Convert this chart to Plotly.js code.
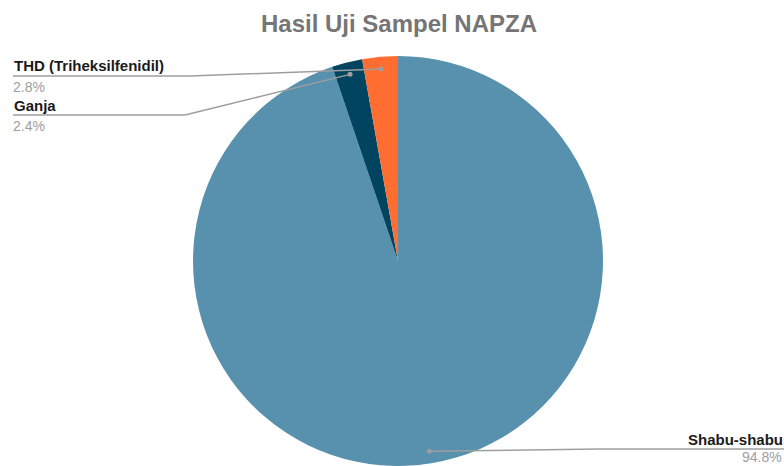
<!DOCTYPE html>
<html>
<head>
<meta charset="utf-8">
<script src="https://cdn.plot.ly/plotly-3.0.1.min.js"></script>
<style>
  html, body { margin: 0; padding: 0; background: #fff; }
  #plot { width: 784px; height: 466px; }
</style>
</head>
<body>
<div id="plot"></div>
<script>
// --- Data (clockwise from 12 o'clock) ---
const labels = ["Shabu-shabu", "Ganja", "THD (Triheksilfenidil)"];
const values = [94.8, 2.4, 2.8];
const colors = ["#5891ae", "#00445f", "#ff6d31"];

// where each outside label sits (px) and where its leader line bends
const labelY = [449, 115, 76];     // underline of each label
const elbowX = [600, 185, 190];
const labelSide = ["right", "left", "left"];

const W = 784, H = 466;
const cx = 398, cy = 261, R = 205;

const px = x => x / W;
const py = y => 1 - y / H;

// --- dots, leader lines, labels from the slice angles ---
const total = values.reduce((a, b) => a + b, 0);
const shapes = [];
const annotations = [];
let cum = 0;
values.forEach((v, i) => {
  const mid = (cum + v / 2) / total * 2 * Math.PI; // clockwise from top
  cum += v;
  const dx = cx + 0.94 * R * Math.sin(mid);
  const dy = cy - 0.94 * R * Math.cos(mid);
  const left = labelSide[i] === "left";
  const endX = left ? 13 : W;
  shapes.push({
    type: "path", xref: "paper", yref: "paper",
    path: `M ${px(dx)} ${py(dy)} L ${px(elbowX[i])} ${py(labelY[i])} L ${px(endX)} ${py(labelY[i])}`,
    line: { color: "#9e9e9e", width: 1.5 }
  });
  shapes.push({
    type: "circle", xref: "paper", yref: "paper",
    xsizemode: "pixel", ysizemode: "pixel",
    xanchor: px(dx), yanchor: py(dy),
    x0: -2.5, x1: 2.5, y0: -2.5, y1: 2.5,
    fillcolor: "#9e9e9e", line: { width: 0 }
  });
  annotations.push({
    xref: "paper", yref: "paper", showarrow: false,
    x: left ? px(12) : px(785), y: py(labelY[i] - 10),
    xanchor: left ? "left" : "right", yanchor: "middle",
    text: "<b>" + labels[i] + "</b>",
    font: { family: "Liberation Sans, Arial, sans-serif", size: 15, color: "#1a1a1a" }
  });
  annotations.push({
    xref: "paper", yref: "paper", showarrow: false, borderpad: 0,
    x: left ? px(12) : px(783), y: py(labelY[i] + (left ? 11 : 8)),
    xanchor: left ? "left" : "right", yanchor: "middle",
    text: v.toFixed(1) + "%",
    font: { family: "Liberation Sans, Arial, sans-serif", size: 14, color: "#9e9e9e" }
  });
});

const pie = {
  type: "pie",
  labels: labels,
  values: values,
  sort: false,
  direction: "clockwise",
  rotation: 0,
  marker: { colors: colors, line: { width: 0 } },
  textinfo: "none",
  hoverinfo: "none",
  domain: { x: [px(cx - R - 1), px(cx + R + 1)], y: [0, 1 - (cy - R) / H] }
};

const layout = {
  width: W,
  height: H,
  margin: { l: 0, r: 0, t: 0, b: 0 },
  paper_bgcolor: "#fff",
  showlegend: false,
  title: {
    text: "<b>Hasil Uji Sampel NAPZA</b>",
    x: px(399), xanchor: "center",
    y: 1 - 24 / H, yanchor: "middle",
    font: { family: "Liberation Sans, Arial, sans-serif", size: 24, color: "#757575" }
  },
  shapes: shapes,
  annotations: annotations
};

Plotly.newPlot("plot", [pie], layout, { staticPlot: true });
</script>
</body>
</html>
